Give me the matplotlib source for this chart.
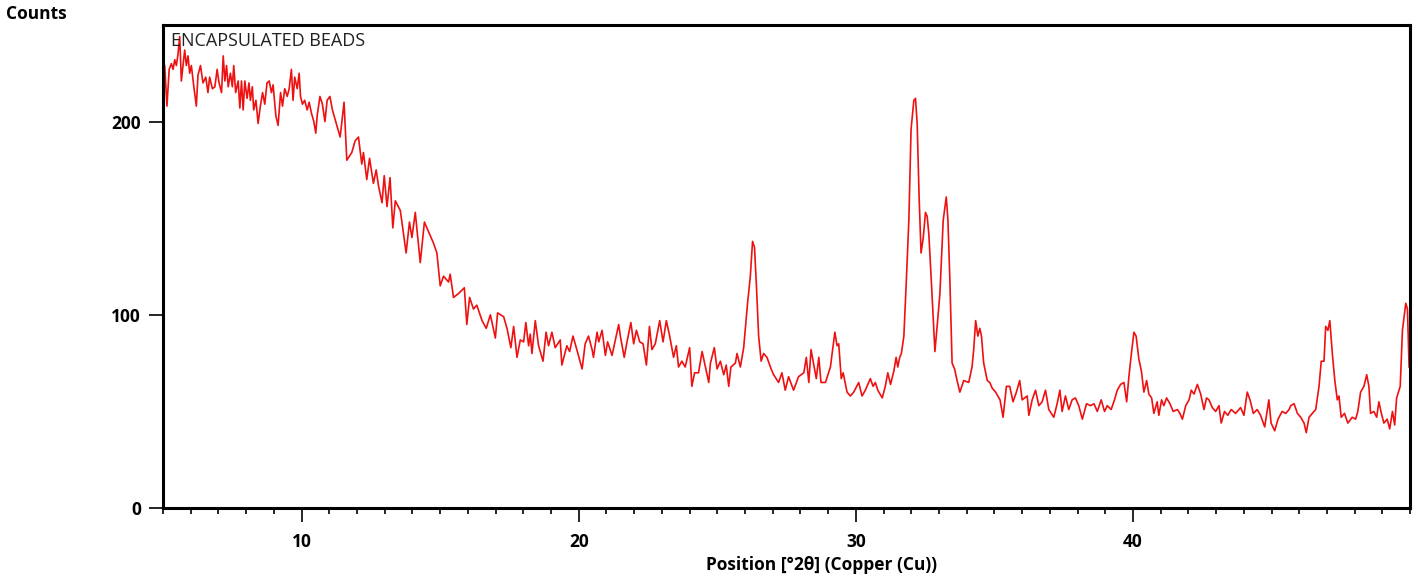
#!/usr/bin/env python3
"""XRD pattern of the encapsulated beads (Cu K-alpha), redrawn from the scan plot."""

import numpy as np
import matplotlib
matplotlib.use("Agg")
import matplotlib.pyplot as plt
from matplotlib.ticker import MultipleLocator

# position [deg 2theta] and counts
two_theta = [
    5.01, 5.06, 5.14, 5.22, 5.30, 5.36, 5.42, 5.48, 5.54, 5.60, 5.66, 5.72, 5.78, 5.84, 5.90,
    5.96, 6.02, 6.11, 6.20, 6.26, 6.35, 6.44, 6.54, 6.62, 6.68, 6.78, 6.87, 6.95, 7.02, 7.11,
    7.17, 7.23, 7.29, 7.35, 7.43, 7.50, 7.55, 7.62, 7.71, 7.77, 7.83, 7.89, 7.95, 8.03, 8.10,
    8.15, 8.22, 8.27, 8.35, 8.43, 8.51, 8.59, 8.67, 8.75, 8.83, 8.91, 8.97, 9.07, 9.15, 9.24,
    9.31, 9.39, 9.48, 9.55, 9.63, 9.69, 9.75, 9.84, 9.91, 9.96, 10.03, 10.11, 10.20, 10.27,
    10.36, 10.44, 10.51, 10.56, 10.66, 10.75, 10.84, 10.92, 11.02, 11.11,
    11.39, 11.53, 11.63, 11.81,
    11.93, 12.05, 12.17, 12.23, 12.35, 12.45, 12.59, 12.69, 12.77, 12.90, 12.98, 13.08, 13.19,
    13.29, 13.38, 13.56, 13.77, 13.89, 13.98, 14.10, 14.28, 14.43, 14.58, 14.76, 14.88, 15.00,
    15.12, 15.30, 15.36, 15.48, 15.66, 15.87, 15.96, 16.06, 16.20, 16.32, 16.51, 16.66, 16.81,
    16.99, 17.07, 17.29, 17.41, 17.55, 17.65, 17.77, 17.89, 18.01, 18.09, 18.19, 18.25, 18.31,
    18.43, 18.55, 18.71, 18.82, 18.91, 19.03, 19.15, 19.33, 19.39, 19.57, 19.67, 19.79, 19.93,
    20.12, 20.23, 20.35, 20.48, 20.53, 20.66, 20.72, 20.84, 20.96, 21.04, 21.20, 21.29, 21.44,
    21.50, 21.64, 21.74, 21.88, 21.98, 22.08, 22.20, 22.32, 22.44, 22.55, 22.64, 22.76, 22.92,
    23.04, 23.16, 23.28, 23.42, 23.52, 23.60, 23.72, 23.84, 24.00, 24.08, 24.18, 24.32, 24.45,
    24.57, 24.69, 24.75, 24.89, 24.99, 25.11, 25.23, 25.32, 25.41, 25.49, 25.65, 25.71, 25.83,
    25.95, 26.09, 26.19, 26.27, 26.34, 26.41, 26.49, 26.58, 26.67, 26.79, 26.94, 27.03, 27.21,
    27.33, 27.45, 27.57, 27.75, 27.93, 28.12, 28.21, 28.30, 28.38, 28.48, 28.57, 28.66, 28.74,
    28.90, 29.08, 29.24, 29.32, 29.38, 29.47, 29.54, 29.68, 29.80, 29.92, 30.10, 30.22, 30.34,
    30.52, 30.62, 30.70, 30.79, 30.95, 31.06, 31.15, 31.25, 31.37, 31.45, 31.51, 31.58, 31.64,
    31.73, 31.82, 31.91, 31.99, 32.09, 32.15, 32.21, 32.28, 32.35, 32.43, 32.51, 32.57, 32.63,
    32.73, 32.85, 32.93, 33.03, 33.15, 33.26, 33.32, 33.39, 33.47, 33.56, 33.65, 33.75, 33.89,
    34.07, 34.19, 34.25, 34.32, 34.40, 34.47, 34.53, 34.61, 34.74, 34.83, 34.92, 35.04, 35.20,
    35.31, 35.43, 35.55, 35.67, 35.79, 35.91, 36.00, 36.18, 36.24, 36.36, 36.48, 36.60, 36.72,
    36.84, 36.96, 37.14, 37.26, 37.36, 37.44, 37.56, 37.68, 37.80, 37.92, 38.04, 38.17, 38.32,
    38.47, 38.59, 38.71, 38.85, 38.97, 39.07, 39.21, 39.33, 39.43, 39.55, 39.67, 39.77, 39.85,
    39.94, 40.03, 40.11, 40.21, 40.30, 40.39, 40.49, 40.57, 40.67, 40.75, 40.87, 40.93, 41.03,
    41.11, 41.21, 41.33, 41.45, 41.60, 41.69, 41.78, 41.90, 42.02, 42.10, 42.20, 42.32, 42.44,
    42.56, 42.65, 42.74, 42.86, 42.98, 43.10, 43.18, 43.30, 43.42, 43.54, 43.70, 43.88, 44.00,
    44.12, 44.22, 44.34, 44.48, 44.60, 44.75, 44.90, 44.98, 45.11, 45.23, 45.38, 45.51, 45.63,
    45.69, 45.81, 45.93, 46.05, 46.17, 46.25, 46.35, 46.47, 46.59, 46.71, 46.79, 46.89, 46.95,
    47.03, 47.10, 47.19, 47.28, 47.37, 47.43, 47.51, 47.63, 47.75, 47.91, 48.03, 48.11, 48.21,
    48.33, 48.43, 48.51, 48.57, 48.69, 48.79, 48.87, 48.96, 49.05, 49.17, 49.26, 49.36, 49.44,
    49.51, 49.64, 49.72, 49.84, 49.90, 49.96,
]
counts = [
    222, 229, 208, 227, 230, 227, 232, 229, 235, 244, 221, 229, 237, 229, 234,
    225, 229, 218, 208, 224, 229, 220, 223, 215, 223, 217, 218, 227, 220, 215,
    234, 221, 229, 218, 225, 218, 229, 215, 221, 207, 221, 206, 221, 212, 220,
    211, 218, 206, 211, 199, 208, 215, 209, 220, 221, 215, 219, 203, 198, 215,
    208, 217, 213, 217, 227, 211, 223, 217, 225, 213, 209, 211, 206, 210,
    204, 200, 194, 203, 213, 209, 200, 211, 213, 206,
    192, 210, 180, 184,
    190, 192, 178, 184, 170, 181, 168, 175, 167, 158, 172, 156, 171,
    145, 159, 154, 132, 148, 140, 153, 127, 148, 143, 137, 132, 115,
    120, 117, 121, 109, 111, 114, 95, 109, 103, 105, 97, 93, 100,
    88, 101, 99, 93, 83, 94, 78, 87, 86, 96, 84, 90, 80,
    97, 84, 76, 91, 84, 91, 83, 87, 74, 84, 81, 89, 82,
    72, 85, 89, 82, 78, 91, 86, 92, 79, 86, 79, 85, 95,
    89, 78, 86, 96, 85, 92, 86, 85, 74, 94, 82, 85, 97,
    86, 97, 89, 78, 84, 73, 76, 73, 83, 63, 70, 70, 81,
    73, 65, 75, 83, 72, 76, 69, 74, 63, 73, 75, 80, 73,
    83, 106, 120, 138, 135, 115, 89, 76, 80, 78, 72, 69, 65,
    70, 61, 68, 61, 68, 70, 78, 65, 82, 74, 67, 78, 65,
    65, 73, 91, 84, 85, 67, 70, 60, 58, 60, 65, 58, 61,
    67, 63, 65, 61, 57, 63, 70, 64, 71, 78, 73, 78, 80,
    89, 118, 149, 196, 211, 212, 199, 161, 132, 140, 153, 151, 142,
    115, 81, 94, 111, 149, 161, 149, 118, 75, 72, 66, 60, 66,
    65, 73, 82, 97, 89, 93, 89, 75, 66, 65, 62, 60, 56,
    47, 63, 63, 55, 60, 66, 56, 58, 48, 56, 61, 53, 55,
    61, 51, 47, 54, 61, 50, 58, 51, 56, 57, 53, 46, 54,
    53, 54, 50, 56, 50, 53, 51, 56, 61, 64, 65, 55, 68,
    80, 91, 89, 77, 71, 60, 66, 59, 57, 49, 55, 48, 56,
    53, 57, 54, 50, 51, 49, 46, 53, 56, 61, 59, 64, 59,
    51, 57, 56, 52, 50, 53, 44, 50, 48, 51, 49, 52, 48,
    60, 56, 49, 51, 48, 42, 56, 44, 40, 46, 50, 49, 51,
    53, 54, 49, 47, 44, 39, 47, 49, 51, 63, 76, 76, 94,
    92, 97, 80, 66, 56, 58, 47, 49, 44, 47, 46, 50, 60,
    63, 69, 63, 49, 50, 47, 55, 49, 44, 46, 41, 50, 43,
    57, 63, 92, 106, 103, 73,
]
sample_label = "ENCAPSULATED BEADS"
x_ticks = [10, 20, 30, 40]
y_ticks = [0, 100, 200]

plt.rcParams["font.family"] = ["Open Sans", "DejaVu Sans"]

fig = plt.figure(figsize=(14.18, 5.8), dpi=100)
ax = fig.add_axes([0.115, 0.124, 0.8795, 0.833])

ax.plot(two_theta, counts, color="#ee1111", linewidth=1.2)

ax.set_xlim(5, 50)
ax.set_ylim(0, 250)
ax.set_xticks(x_ticks)
ax.set_yticks(y_ticks)
ax.xaxis.set_minor_locator(MultipleLocator(1))
ax.tick_params(axis="both", which="major", direction="out", length=10, width=1.2,
               labelsize=12.5, pad=6)
ax.tick_params(axis="x", which="major", pad=8)
ax.tick_params(axis="x", which="minor", direction="out", length=4, width=1.2)
for lbl in ax.get_xticklabels() + ax.get_yticklabels():
    lbl.set_fontweight("bold")
for sp in ax.spines.values():
    sp.set_linewidth(2.2)

ax.text(0.006, 0.985, sample_label, transform=ax.transAxes, ha="left", va="top",
        fontsize=13, color="#222222")
ax.set_xlabel("Position [°2θ] (Copper (Cu))", fontsize=12.5, fontweight="bold")
ax.xaxis.set_label_coords(0.528, -0.10)
fig.text(0.004, 0.976, "Counts", ha="left", va="center", fontsize=12.5, fontweight="bold")

fig.savefig("out.png", dpi=100)
plt.close(fig)
